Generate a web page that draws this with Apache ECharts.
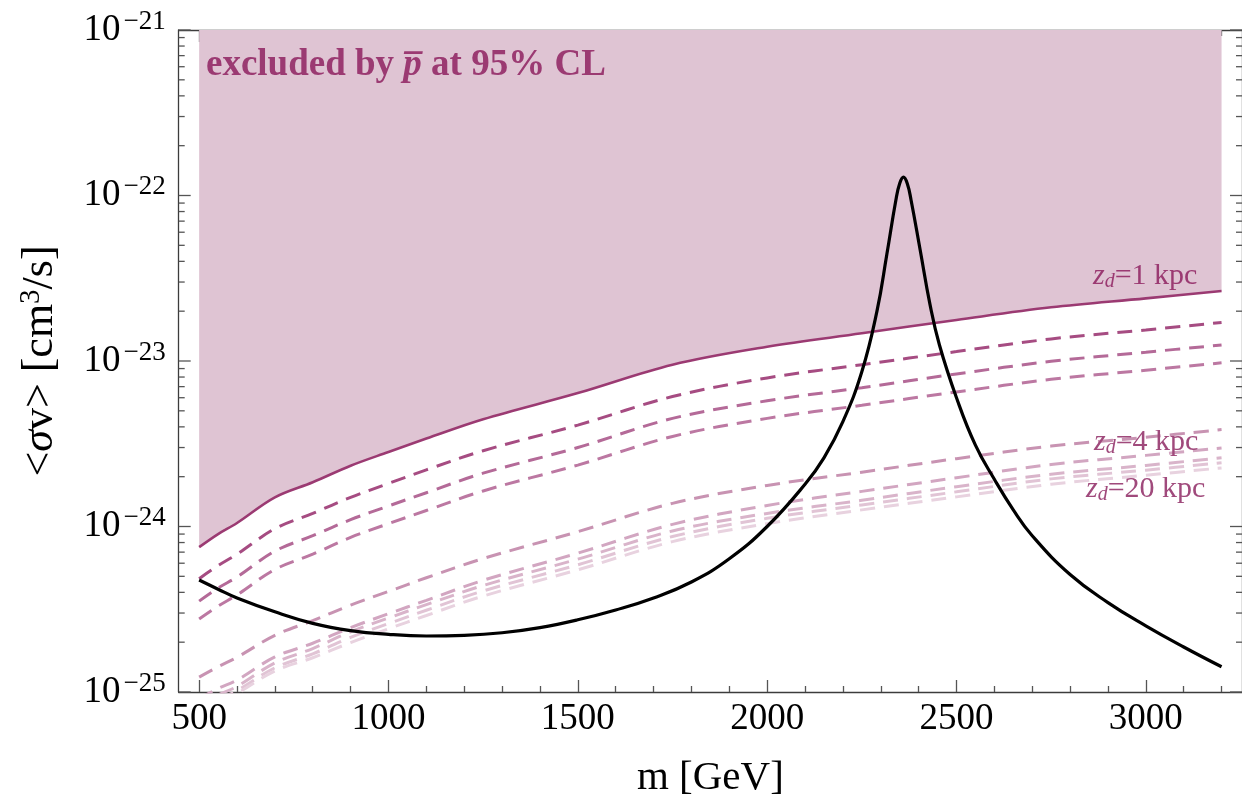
<!DOCTYPE html>
<html>
<head>
<meta charset="utf-8">
<script src="https://cdn.jsdelivr.net/npm/echarts/dist/echarts.min.js"></script>
<style>
  html, body { margin: 0; padding: 0; background: #fff; }
  #chart { width: 1242px; height: 811px; }
</style>
</head>
<body>
<div id="chart"></div>
<script>
// Antiproton exclusion limits for several diffusion-halo heights, vs. model cross section.
const masses = [500, 550, 600, 700, 800, 900, 1000, 1100, 1250, 1500, 1750, 2000, 2250, 2500, 2750, 3000, 3200];

// z_d = 1 kpc limit (solid, bounds the excluded region)
const limitZd1 = [7.5e-25, 9.0e-25, 1.05e-24, 1.5e-24, 1.85e-24, 2.33e-24, 2.82e-24, 3.4e-24, 4.45e-24, 6.4e-24, 9.5e-24, 1.22e-23, 1.47e-23, 1.77e-23, 2.11e-23, 2.39e-23, 2.65e-23];
// intermediate halo heights (dashed)
const limitUpperA = [4.84e-25, 5.8e-25, 6.8e-25, 9.7e-25, 1.2e-24, 1.5e-24, 1.82e-24, 2.2e-24, 2.87e-24, 4.1e-24, 6.1e-24, 7.9e-24, 9.5e-24, 1.14e-23, 1.36e-23, 1.54e-23, 1.71e-23];
const limitUpperB = [3.54e-25, 4.25e-25, 4.95e-25, 7.1e-25, 8.8e-25, 1.1e-24, 1.33e-24, 1.6e-24, 2.1e-24, 3.0e-24, 4.5e-24, 5.75e-24, 6.9e-24, 8.35e-24, 9.95e-24, 1.13e-23, 1.25e-23];
const limitUpperC = [2.76e-25, 3.3e-25, 3.86e-25, 5.5e-25, 6.8e-25, 8.6e-25, 1.04e-24, 1.25e-24, 1.64e-24, 2.35e-24, 3.5e-24, 4.5e-24, 5.4e-24, 6.5e-24, 7.75e-24, 8.8e-24, 9.75e-24];
// z_d = 4 ... 20 kpc (lighter dashed)
const limitLowerA = [1.23e-25, 1.42e-25, 1.62e-25, 2.2e-25, 2.7e-25, 3.35e-25, 4.05e-25, 4.9e-25, 6.4e-25, 9.3e-25, 1.38e-24, 1.77e-24, 2.13e-24, 2.57e-24, 3.06e-24, 3.46e-24, 3.85e-24];
const limitLowerB = [9.1e-26, 1.05e-25, 1.18e-25, 1.63e-25, 1.97e-25, 2.45e-25, 2.97e-25, 3.58e-25, 4.73e-25, 6.9e-25, 1.03e-24, 1.34e-24, 1.63e-24, 1.97e-24, 2.37e-24, 2.69e-24, 2.98e-24];
const limitLowerC = [8.2e-26, 9.6e-26, 1.08e-25, 1.5e-25, 1.83e-25, 2.31e-25, 2.8e-25, 3.37e-25, 4.4e-25, 6.35e-25, 9.4e-25, 1.2e-24, 1.44e-24, 1.74e-24, 2.07e-24, 2.34e-24, 2.6e-24];
const limitLowerD = [7.65e-26, 9.0e-26, 1.02e-25, 1.4e-25, 1.7e-25, 2.14e-25, 2.59e-25, 3.12e-25, 4.08e-25, 5.87e-25, 8.7e-25, 1.12e-24, 1.35e-24, 1.62e-24, 1.94e-24, 2.19e-24, 2.43e-24];
const limitLowerE = [7.35e-26, 8.65e-26, 9.8e-26, 1.34e-25, 1.61e-25, 1.99e-25, 2.41e-25, 2.9e-25, 3.8e-25, 5.47e-25, 8.1e-25, 1.04e-24, 1.26e-24, 1.51e-24, 1.8e-24, 2.04e-24, 2.26e-24];

// model annihilation cross section with its resonance
const modelMasses = [500, 550, 600, 700, 800, 900, 1000, 1100, 1200, 1300, 1400, 1500, 1600, 1700, 1800, 1900, 2000, 2100, 2150, 2200, 2250, 2290, 2316, 2340, 2350, 2360, 2370, 2380, 2404, 2430, 2455, 2500, 2550, 2600, 2650, 2700, 2800, 2900, 3000, 3100, 3200];
const modelSigmaV = [4.75e-25, 4.18e-25, 3.7e-25, 3.05e-25, 2.6e-25, 2.35e-25, 2.23e-25, 2.18e-25, 2.2e-25, 2.28e-25, 2.45e-25, 2.73e-25, 3.13e-25, 3.7e-25, 4.62e-25, 6.38e-25, 1.0e-24, 1.8e-24, 2.6e-24, 4.3e-24, 8.6e-24, 2.0e-23, 4.4e-23, 9.4e-23, 1.18e-22, 1.29e-22, 1.18e-22, 9.4e-23, 4.7e-23, 2.2e-23, 1.25e-23, 6.0e-24, 3.1e-24, 1.93e-24, 1.26e-24, 8.8e-25, 5.13e-25, 3.47e-25, 2.51e-25, 1.87e-25, 1.42e-25];

// tick positions
const xMajorTicks = [500, 1000, 1500, 2000, 2500, 3000];
const xMinorTicks = [600, 700, 800, 900, 1100, 1200, 1300, 1400, 1600, 1700, 1800, 1900, 2100, 2200, 2300, 2400, 2600, 2700, 2800, 2900, 3100, 3200];
const yMajorTicks = [1e-25, 1e-24, 1e-23, 1e-22, 1e-21];
const yMinorTicks = [
  2e-25, 3e-25, 4e-25, 5e-25, 6e-25, 7e-25, 8e-25, 9e-25,
  2e-24, 3e-24, 4e-24, 5e-24, 6e-24, 7e-24, 8e-24, 9e-24,
  2e-23, 3e-23, 4e-23, 5e-23, 6e-23, 7e-23, 8e-23, 9e-23,
  2e-22, 3e-22, 4e-22, 5e-22, 6e-22, 7e-22, 8e-22, 9e-22
];

const serif = '"Liberation Serif", "Times New Roman", serif';
const purple = '#9B3A72';
const labelPurple = '#A04A7C';
const fillColor = '#DFC4D3';
const frameLine = { color: '#3c3c3c', width: 1.3 };
const tickColor = '#555';
const tickLine = { color: tickColor, width: 1.3 };
const X_MIN = 446, X_MAX = 3254, Y_MIN = 1e-25, Y_MAX = 1e-21;
const CURVE_SMOOTH = 0.35;

function pairs(xs, ys) { return xs.map((x, i) => [x, ys[i]]); }

function dashed(name, values, color) {
  return {
    name, type: 'line', data: pairs(masses, values),
    symbol: 'none', smooth: CURVE_SMOOTH, silent: true, z: 3,
    lineStyle: { color, width: 3, type: [15, 9], cap: 'butt' }
  };
}

function xAxisDef(position, ticks, len, withLine, withLabels) {
  return {
    type: 'value', min: X_MIN, max: X_MAX, position,
    axisLine: { show: withLine, onZero: false, lineStyle: frameLine },
    axisTick: { show: true, inside: true, length: len, customValues: ticks, lineStyle: tickLine },
    axisLabel: {
      show: withLabels, customValues: ticks, formatter: v => String(v),
      fontSize: 37, fontFamily: serif, color: '#000', margin: 9
    },
    splitLine: { show: false }
  };
}

// log axis: frame line only; its ticks and labels are drawn by the tick series below
function yAxisDef(position) {
  return {
    type: 'log', logBase: 10, min: Y_MIN, max: Y_MAX, position,
    axisLine: { show: true, onZero: false, lineStyle: frameLine },
    axisTick: { show: false, customValues: yMajorTicks },
    axisLabel: { show: false, customValues: yMajorTicks },
    minorTick: { show: false },
    splitLine: { show: false }
  };
}

const bottomMajor = xAxisDef('bottom', xMajorTicks, 12, true, true);
bottomMajor.name = 'm [GeV]';
bottomMajor.nameLocation = 'middle';
bottomMajor.nameGap = 66;
bottomMajor.nameTextStyle = { fontSize: 41, fontFamily: serif, color: '#000' };

const leftAxis = yAxisDef('left');
leftAxis.name = '<{i|\u03C3}v> [cm{sup|3}/s]';
leftAxis.nameLocation = 'middle';
leftAxis.nameGap = 114;
leftAxis.nameRotate = 90;
leftAxis.nameTextStyle = {
  fontSize: 44, fontFamily: serif, color: '#000', lineHeight: 48,
  rich: {
    i: { fontSize: 44, fontFamily: serif, fontStyle: 'italic', color: '#000', lineHeight: 48 },
    sup: { fontSize: 29, fontFamily: serif, color: '#000', lineHeight: 28, verticalAlign: 'top' }
  }
};

// cubic path through pixel points, same control-point rule as the line series smoothing
function smoothPathData(pts, smooth) {
  const n = pts.length;
  const cpIn = [], cpOut = [];
  for (let i = 0; i < n; i++) {
    const p = pts[i];
    if (i === 0 || i === n - 1) { cpIn[i] = p; cpOut[i] = p; continue; }
    const a = pts[i - 1], b = pts[i + 1];
    const vx = b[0] - a[0], vy = b[1] - a[1];
    const l0 = Math.hypot(p[0] - a[0], p[1] - a[1]);
    const l1 = Math.hypot(b[0] - p[0], b[1] - p[1]);
    const r = l1 / (l0 + l1);
    cpOut[i] = [p[0] + vx * smooth * r, p[1] + vy * smooth * r];
    cpIn[i] = [p[0] - vx * smooth * (1 - r), p[1] - vy * smooth * (1 - r)];
  }
  let d = 'M' + pts[0][0] + ',' + pts[0][1];
  for (let i = 1; i < n; i++) {
    d += ' C' + cpOut[i - 1][0] + ',' + cpOut[i - 1][1] + ' ' + cpIn[i][0] + ',' + cpIn[i][1] + ' ' + pts[i][0] + ',' + pts[i][1];
  }
  return d;
}

// excluded region above the z_d = 1 kpc limit, and the limit curve itself
function renderExcluded(params, api) {
  if (params.dataIndex !== 0) return null;
  const pts = masses.map((m, i) => api.coord([m, limitZd1[i]]));
  const curve = smoothPathData(pts, CURVE_SMOOTH);
  const tr = api.coord([masses[masses.length - 1], Y_MAX]);
  const tl = api.coord([masses[0], Y_MAX]);
  const area = curve + ' L' + tr[0] + ',' + tr[1] + ' L' + tl[0] + ',' + tl[1] + ' Z';
  return {
    type: 'group',
    children: [
      { type: 'path', shape: { pathData: area }, style: { fill: fillColor, stroke: null }, silent: true },
      { type: 'path', shape: { pathData: curve }, style: { fill: null, stroke: purple, lineWidth: 2.6, lineJoin: 'round' }, silent: true }
    ]
  };
}

// logarithmic ticks on the left and right frame edges, with decade labels
function renderYTicks(params, api) {
  const v = api.value(1);
  const major = api.value(2) === 1;
  const len = major ? 12 : 6;
  const l = api.coord([X_MIN, v]);
  const r = api.coord([X_MAX, v]);
  const children = [
    { type: 'line', shape: { x1: l[0], y1: l[1], x2: l[0] + len, y2: l[1] }, style: { stroke: tickColor, lineWidth: 1.3 } },
    { type: 'line', shape: { x1: r[0] - len, y1: r[1], x2: r[0], y2: r[1] }, style: { stroke: tickColor, lineWidth: 1.3 } }
  ];
  if (major) {
    const exp = Math.abs(Math.round(Math.log10(v)));
    children.push({
      type: 'text', x: l[0] - 13, y: l[1],
      style: {
        text: '{b|10}{s|\u2212' + exp + '}',
        align: 'right', verticalAlign: 'middle',
        textAlign: 'right', textVerticalAlign: 'middle',
        rich: {
          b: { fontSize: 37, fontFamily: serif, fill: '#000', lineHeight: 44, verticalAlign: 'middle' },
          s: { fontSize: 27, fontFamily: serif, fill: '#000', lineHeight: 20, verticalAlign: 'top', padding: [0, 0, 0, 3] }
        }
      }
    });
  }
  return { type: 'group', children };
}

const yTickData = yMajorTicks.map(v => [X_MIN, v, 1]).concat(yMinorTicks.map(v => [X_MIN, v, 0]));

const chart = echarts.init(document.getElementById('chart'), null, { renderer: 'canvas' });

chart.setOption({
  animation: false,
  backgroundColor: '#fff',
  grid: { left: 178.7, top: 30, width: 1070.6, height: 662, containLabel: false },
  xAxis: [
    bottomMajor,
    xAxisDef('bottom', xMinorTicks, 6, false, false),
    xAxisDef('top', xMajorTicks, 12, true, false),
    xAxisDef('top', xMinorTicks, 6, false, false)
  ],
  yAxis: [leftAxis, yAxisDef('right')],
  series: [
    {
      name: 'z_d = 1 kpc', type: 'custom', renderItem: renderExcluded,
      data: pairs(masses, limitZd1), clip: true, silent: true, z: 1
    },
    dashed('z_d upper a', limitUpperA, '#A64C82'),
    dashed('z_d upper b', limitUpperB, '#B46A98'),
    dashed('z_d upper c', limitUpperC, '#BC78A2'),
    dashed('z_d lower a', limitLowerA, '#C893B2'),
    dashed('z_d lower b', limitLowerB, '#D2A6C1'),
    dashed('z_d lower c', limitLowerC, '#D9B4CA'),
    dashed('z_d lower d', limitLowerD, '#E1C4D5'),
    dashed('z_d lower e', limitLowerE, '#E8D2DF'),
    {
      name: 'model', type: 'line', data: pairs(modelMasses, modelSigmaV),
      symbol: 'none', smooth: 0.45, silent: true, z: 5,
      lineStyle: { color: '#000', width: 3.2, join: 'round' }
    },
    {
      name: 'y ticks', type: 'custom', renderItem: renderYTicks,
      data: yTickData, clip: false, silent: true, z: 6
    }
  ],
  graphic: [
    {
      type: 'text', left: 206, top: 47, z: 10,
      style: {
        text: 'excluded by {p|p\u0305} at 95% CL',
        font: 'bold 37px ' + serif, fill: purple,
        rich: { p: { font: 'italic bold 37px ' + serif, fill: purple } }
      }
    },
    {
      type: 'text', left: 1093, top: 261, z: 10,
      style: {
        text: '{i|z}{d|d}{n|=1 kpc}',
        rich: {
          i: { font: 'italic 30px ' + serif, fill: purple, lineHeight: 32 },
          d: { font: 'italic 20px ' + serif, fill: purple, lineHeight: 32, verticalAlign: 'bottom' },
          n: { font: '30px ' + serif, fill: purple, lineHeight: 32 }
        }
      }
    },
    {
      type: 'text', left: 1094, top: 427, z: 10,
      style: {
        text: '{i|z}{d|d}{n|=4 kpc}',
        rich: {
          i: { font: 'italic 30px ' + serif, fill: labelPurple, lineHeight: 32 },
          d: { font: 'italic 20px ' + serif, fill: labelPurple, lineHeight: 32, verticalAlign: 'bottom' },
          n: { font: '30px ' + serif, fill: labelPurple, lineHeight: 32 }
        }
      }
    },
    {
      type: 'text', left: 1086, top: 474, z: 10,
      style: {
        text: '{i|z}{d|d}{n|=20 kpc}',
        rich: {
          i: { font: 'italic 30px ' + serif, fill: labelPurple, lineHeight: 32 },
          d: { font: 'italic 20px ' + serif, fill: labelPurple, lineHeight: 32, verticalAlign: 'bottom' },
          n: { font: '30px ' + serif, fill: labelPurple, lineHeight: 32 }
        }
      }
    }
  ]
});
</script>
</body>
</html>
